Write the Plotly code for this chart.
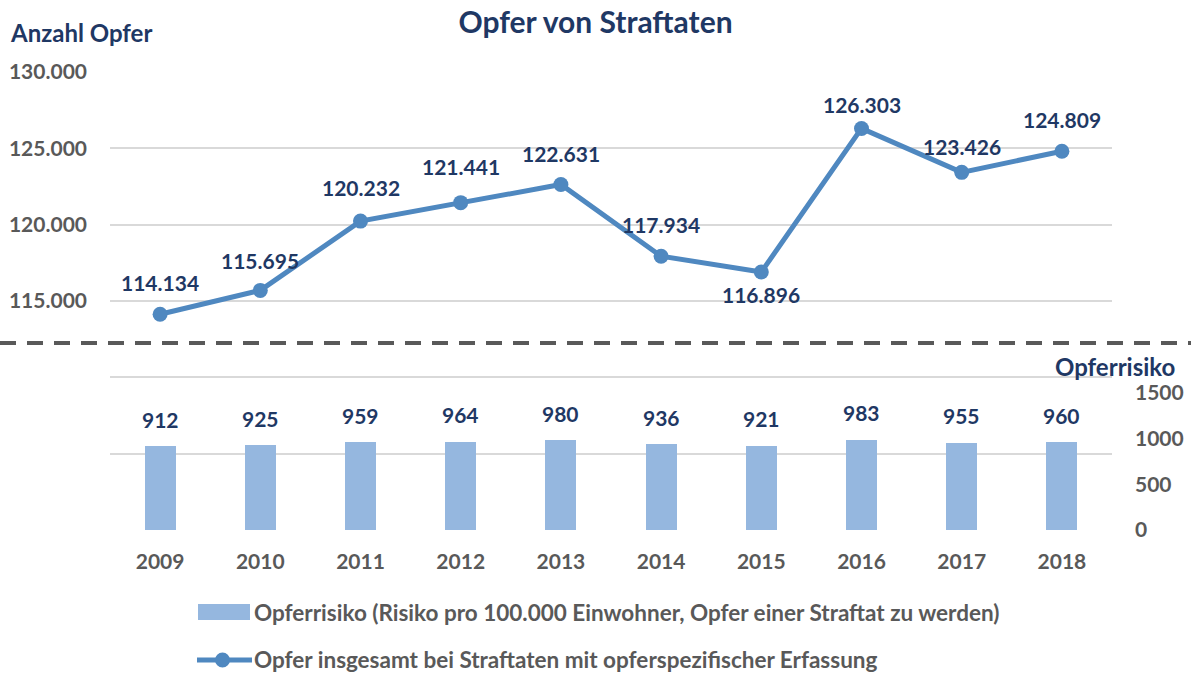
import plotly.graph_objects as go

years = ["2009", "2010", "2011", "2012", "2013", "2014", "2015", "2016", "2017", "2018"]
opfer = [114134, 115695, 120232, 121441, 122631, 117934, 116896, 126303, 123426, 124809]
risiko = [912, 925, 959, 964, 980, 936, 921, 983, 955, 960]
left_ticks = [100000, 105000, 110000, 115000, 120000, 125000, 130000]
left_tick_shown = [115000, 120000, 125000, 130000]
right_ticks = [0, 500, 1000, 1500]

NAVY = "#1F3864"
GRAY = "#595959"
GRID = "#D9D9D9"
BAR = "#95B7DF"
LINE = "#4F88C0"
FONT = "Lato"

W, H = 1191, 673
L, R, T, B = 110, 1112, 72, 530


def px_x(px):
    return (px - L) / (R - L)


def px_y(py):
    return (B - py) / (B - T)


def de(v):
    return f"{v:,}".replace(",", ".")


xi = list(range(len(years)))

fig = go.Figure()
fig.add_trace(go.Bar(
    x=xi, y=risiko, yaxis="y2", width=0.31,
    marker=dict(color=BAR, line=dict(width=0)),
    showlegend=False, hoverinfo="skip",
))
fig.add_trace(go.Scatter(
    x=xi, y=opfer, mode="lines+markers",
    line=dict(color=LINE, width=5),
    marker=dict(color=LINE, size=15),
    showlegend=False, hoverinfo="skip",
))

annos = []
line_label_shift = [32, 30, 34, 36, 31, 32, -22, 24, 26, 32]
for i, v in enumerate(opfer):
    annos.append(dict(x=i, y=v, xref="x", yref="y", text=de(v), showarrow=False,
                      yshift=line_label_shift[i],
                      font=dict(family=FONT, size=21, color=NAVY, weight="bold")))
for i, v in enumerate(risiko):
    annos.append(dict(x=i, y=v, xref="x", yref="y2", text=str(v), showarrow=False,
                      yshift=27,
                      font=dict(family=FONT, size=21, color=NAVY, weight="bold")))

annos.append(dict(x=px_x(8), y=px_y(32), xref="paper", yref="paper", xanchor="left",
                  yanchor="middle", text="Anzahl Opfer", showarrow=False,
                  font=dict(family=FONT, size=24, color=NAVY, weight="bold")))
annos.append(dict(x=px_x(1177), y=px_y(366), xref="paper", yref="paper", xanchor="right",
                  yanchor="middle", text="Opferrisiko", showarrow=False,
                  font=dict(family=FONT, size=24, color=NAVY, weight="bold")))

# manual legend
legend_font = dict(family=FONT, size=22.5, color=GRAY, weight="bold")
annos.append(dict(x=px_x(252), y=px_y(612), xref="paper", yref="paper", xanchor="left",
                  yanchor="middle", showarrow=False, font=legend_font,
                  text="Opferrisiko (Risiko pro 100.000 Einwohner, Opfer einer Straftat zu werden)"))
annos.append(dict(x=px_x(252), y=px_y(659), xref="paper", yref="paper", xanchor="left",
                  yanchor="middle", showarrow=False, font=legend_font,
                  text="Opfer insgesamt bei Straftaten mit opferspezifischer Erfassung"))

shapes = [
    dict(type="line", xref="paper", yref="paper", x0=px_x(0), x1=px_x(W), y0=px_y(343), y1=px_y(343),
         line=dict(color=GRAY, width=4, dash="16px,11px")),
    dict(type="rect", xref="paper", yref="paper", x0=px_x(198), x1=px_x(250), y0=px_y(620), y1=px_y(604),
         fillcolor=BAR, line=dict(width=0)),
    dict(type="line", xref="paper", yref="paper", x0=px_x(197), x1=px_x(252), y0=px_y(660), y1=px_y(660),
         line=dict(color=LINE, width=5)),
    dict(type="circle", xref="paper", yref="paper", x0=px_x(215), x1=px_x(230), y0=px_y(667.5), y1=px_y(652.5),
         fillcolor=LINE, line=dict(width=0)),
]

fig.update_layout(
    width=W, height=H,
    margin=dict(l=L, r=W - R, t=T, b=H - B, pad=0, autoexpand=False),
    paper_bgcolor="white", plot_bgcolor="white",
    title=dict(text="Opfer von Straftaten", x=0.5, xref="container", xanchor="center",
               y=1 - 22 / H, yref="container", yanchor="middle",
               font=dict(family=FONT, size=30, color=NAVY, weight="bold")),
    xaxis=dict(range=[-0.5, len(years) - 0.5], tickvals=xi, ticktext=years,
               showgrid=False, zeroline=False, showline=False, ticks="",
               ticklabelstandoff=17, automargin=False,
               tickfont=dict(family=FONT, size=21, color=GRAY, weight="bold")),
    yaxis=dict(range=[100000, 130000], tickvals=left_ticks,
               ticktext=[de(v) if v in left_tick_shown else "" for v in left_ticks],
               showgrid=True, gridcolor=GRID, gridwidth=2, zeroline=False, showline=False,
               ticks="", ticklabelstandoff=22, automargin=False,
               tickfont=dict(family=FONT, size=21, color=GRAY, weight="bold")),
    yaxis2=dict(range=[0, 5000], overlaying="y", side="right", tickvals=right_ticks,
                showgrid=False, zeroline=False, showline=False, ticks="",
                ticklabelstandoff=22, automargin=False,
                tickfont=dict(family=FONT, size=21, color=GRAY, weight="bold")),
    annotations=annos,
    shapes=shapes,
    bargap=0,
)

fig.write_html("out.html", config={"displayModeBar": False},
               post_script="document.body.style.margin='0px';")
